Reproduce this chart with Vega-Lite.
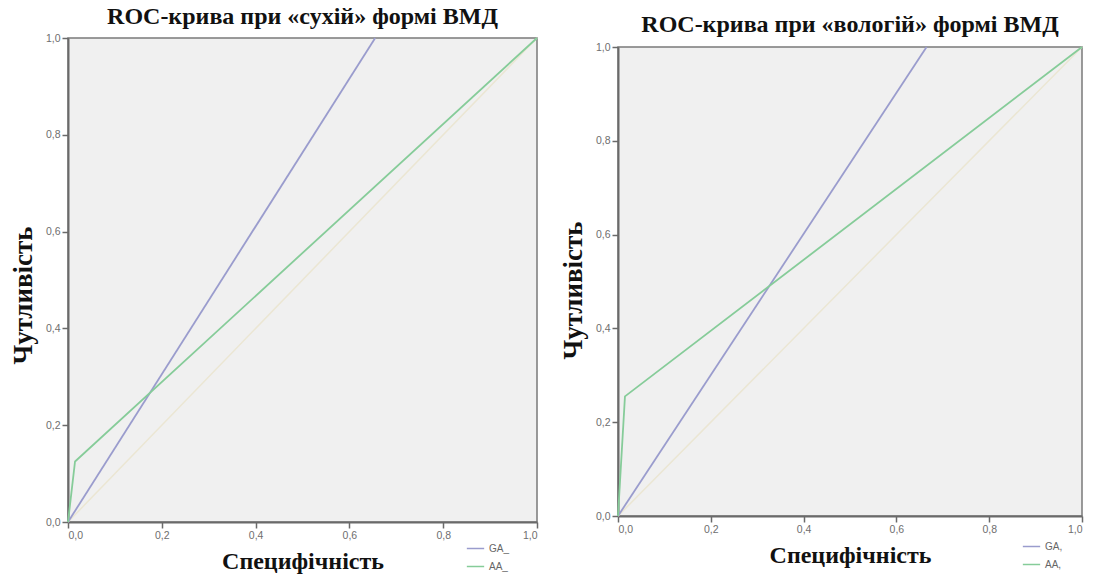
{
  "$schema": "https://vega.github.io/schema/vega-lite/v6.json",
  "background": "#ffffff",
  "padding": {"left": 8, "top": 3, "right": 4, "bottom": 0},
  "datasets": {
    "dry": [
      {"series": "GA_", "x": 0, "y": 0},
      {"series": "GA_", "x": 0.655, "y": 1},
      {"series": "AA_", "x": 0, "y": 0},
      {"series": "AA_", "x": 0.015, "y": 0.125},
      {"series": "AA_", "x": 1, "y": 1}
    ],
    "wet": [
      {"series": "GA,", "x": 0, "y": 0},
      {"series": "GA,", "x": 0.665, "y": 1},
      {"series": "AA,", "x": 0, "y": 0},
      {"series": "AA,", "x": 0.015, "y": 0.255},
      {"series": "AA,", "x": 1, "y": 1}
    ],
    "diag": [
      {"x": 0, "y": 0},
      {"x": 1, "y": 1}
    ],
    "blank": [{"k": 1}]
  },
  "config": {
    "view": {"fill": "#f0f0f0", "stroke": "#7a7a7a", "strokeWidth": 1.5},
    "axis": {
      "grid": false,
      "domainColor": "#6a6a6a",
      "domainWidth": 2,
      "tickColor": "#6a6a6a",
      "tickWidth": 1.5,
      "tickSize": 6,
      "labelFont": "Liberation Sans",
      "labelFontSize": 10.5,
      "labelColor": "#6e6e6e",
      "labelPadding": 2,
      "titleFont": "Liberation Serif",
      "titleFontSize": 24,
      "titleFontWeight": "bold",
      "titleColor": "#111111"
    },
    "title": {"font": "Liberation Serif", "fontSize": 24, "fontWeight": "bold", "color": "#111111", "offset": 4},
    "legend": {"labelFont": "Liberation Sans", "labelFontSize": 10, "labelColor": "#666666", "symbolType": "stroke", "symbolSize": 300, "symbolStrokeWidth": 1.5, "rowPadding": 3, "padding": 0}
  },
  "resolve": {"scale": {"color": "independent"}, "legend": {"color": "independent"}},
  "spacing": 16,
  "hconcat": [
    {
      "spacing": 0,
      "vconcat": [
        {
          "data": {"name": "blank"},
          "width": 469,
          "height": 1,
          "view": {"fill": null, "stroke": null},
          "mark": {"type": "point", "opacity": 0, "size": 0}
        },
        {
          "title": "ROC-крива при «сухій» формі ВМД",
          "width": 469,
          "height": 484,
          "layer": [
            {
              "data": {"name": "diag"},
              "mark": {"type": "line", "color": "#ebe6d3", "strokeWidth": 1.5},
              "encoding": {
                "x": {"field": "x", "type": "quantitative"},
                "y": {"field": "y", "type": "quantitative"}
              }
            },
            {
              "data": {"name": "dry"},
              "mark": {"type": "line", "strokeWidth": 1.8},
              "encoding": {
                "x": {"field": "x", "type": "quantitative", "scale": {"domain": [0, 1]}, "axis": {"values": [0, 0.2, 0.4, 0.6, 0.8, 1], "labelExpr": "replace(format(datum.value, '.1f'), '.', ',')", "title": "Специфічність", "titlePadding": 9}},
                "y": {"field": "y", "type": "quantitative", "scale": {"domain": [0, 1]}, "axis": {"values": [0, 0.2, 0.4, 0.6, 0.8, 1], "labelExpr": "replace(format(datum.value, '.1f'), '.', ',')", "title": "Чутливість", "titlePadding": 8, "titleFontSize": 27, "titleY": 257}},
                "color": {"field": "series", "type": "nominal", "scale": {"domain": ["GA_", "AA_"], "range": ["#9a9ccd", "#86cc99"]}, "legend": {"title": null, "orient": "none", "legendX": 398, "legendY": 536}},
                "order": {"field": "x"}
              }
            }
          ]
        }
      ]
    },
    {
      "spacing": 0,
      "vconcat": [
        {
          "data": {"name": "blank"},
          "width": 464,
          "height": 9,
          "view": {"fill": null, "stroke": null},
          "mark": {"type": "point", "opacity": 0, "size": 0}
        },
        {
          "title": {"text": "ROC-крива при «вологій» формі ВМД", "offset": 5},
          "width": 464,
          "height": 469,
          "layer": [
            {
              "data": {"name": "diag"},
              "mark": {"type": "line", "color": "#ebe6d3", "strokeWidth": 1.5},
              "encoding": {
                "x": {"field": "x", "type": "quantitative"},
                "y": {"field": "y", "type": "quantitative"}
              }
            },
            {
              "data": {"name": "wet"},
              "mark": {"type": "line", "strokeWidth": 1.8},
              "encoding": {
                "x": {"field": "x", "type": "quantitative", "scale": {"domain": [0, 1]}, "axis": {"values": [0, 0.2, 0.4, 0.6, 0.8, 1], "labelExpr": "replace(format(datum.value, '.1f'), '.', ',')", "title": "Специфічність", "titlePadding": 9}},
                "y": {"field": "y", "type": "quantitative", "scale": {"domain": [0, 1]}, "axis": {"values": [0, 0.2, 0.4, 0.6, 0.8, 1], "labelExpr": "replace(format(datum.value, '.1f'), '.', ',')", "title": "Чутливість", "titlePadding": 8, "titleFontSize": 27, "titleY": 243}},
                "color": {"field": "series", "type": "nominal", "scale": {"domain": ["GA,", "AA,"], "range": ["#9a9ccd", "#86cc99"]}, "legend": {"title": null, "orient": "none", "legendX": 404, "legendY": 534}},
                "order": {"field": "x"}
              }
            }
          ]
        }
      ]
    }
  ]
}
